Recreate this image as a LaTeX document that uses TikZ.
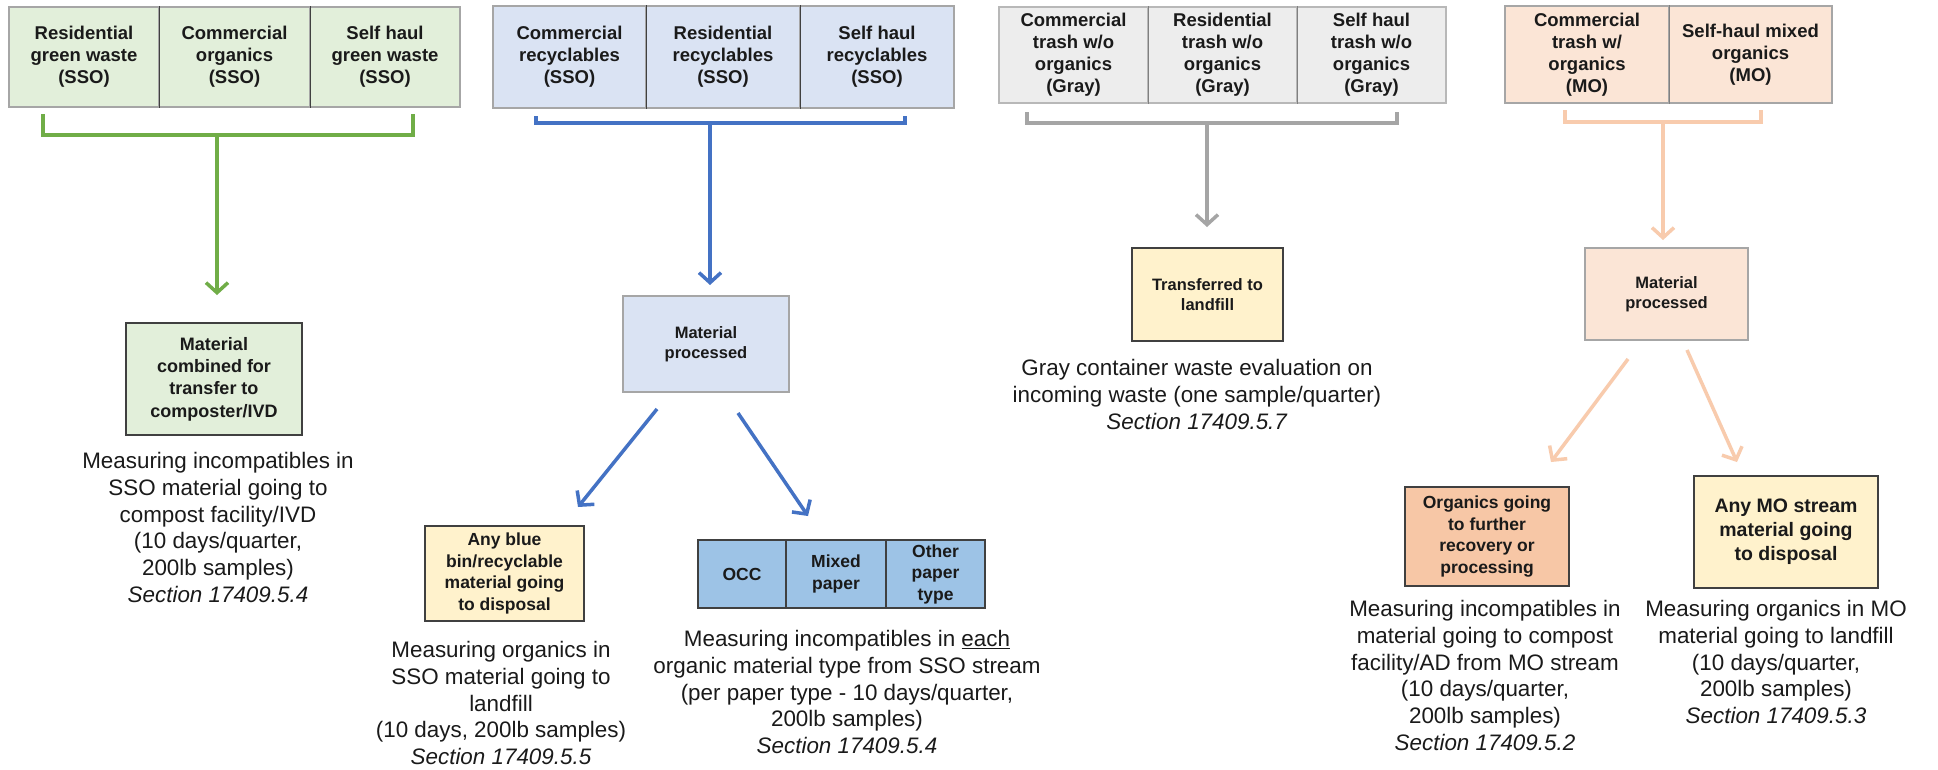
\documentclass[tikz,border=0pt]{standalone}
\usepackage{fontspec}
\setmainfont{Liberation Sans}
\usetikzlibrary{arrows.meta}
\definecolor{gfill}{HTML}{E2EFDA}
\definecolor{garrow}{HTML}{70AD47}
\definecolor{bfill}{HTML}{DAE3F3}
\definecolor{barrow}{HTML}{4472C4}
\definecolor{papfill}{HTML}{9DC3E6}
\definecolor{yfill}{HTML}{EDEDED}
\definecolor{yarrow}{HTML}{A5A5A5}
\definecolor{tfill}{HTML}{FFF2CC}
\definecolor{mfill}{HTML}{FBE5D6}
\definecolor{marrow}{HTML}{F8CBAD}
\definecolor{ofill}{HTML}{F7C7A6}
\definecolor{lborder}{HTML}{A6A6A6}
\definecolor{dborder}{HTML}{404040}
\definecolor{txt}{HTML}{1A1A1A}
\tikzset{
  hcell/.style={draw=lborder, line width=1.2pt, inner sep=0pt, align=center, text=txt,
    font=\fontsize{18.5}{22}\selectfont\bfseries},
  dbox/.style={draw=dborder, line width=1.5pt, inner sep=0pt, align=center, text=txt,
    font=\fontsize{17.5}{21.5}\selectfont\bfseries},
  lbox/.style={draw=lborder, line width=1.5pt, inner sep=0pt, align=center, text=txt,
    font=\fontsize{16.5}{20.5}\selectfont\bfseries},
  divider/.style={draw=dborder, line width=1.2pt},
  note/.style={anchor=north, inner sep=0pt, align=center, text=txt,
    font=\fontsize{22.4}{26.8}\selectfont},
  conn/.style={line width=3.5pt},
  tipped/.style={line width=3.5pt, -{Straight Barb[length=10pt,width=22pt]}},
}
\begin{document}
\begin{tikzpicture}[x=1pt,y=-1pt]
\fill[white] (0,0) rectangle (1938,769);
\useasboundingbox (0,0) rectangle (1938,769);

% ---------- green group ----------
\node[hcell, fill=gfill, minimum width=150pt, minimum height=100pt] (g1) at (84,57) {Residential\\green waste\\(SSO)};
\node[hcell, fill=gfill, minimum width=151pt, minimum height=100pt] (g2) at (234.5,57) {Commercial\\organics\\(SSO)};
\node[hcell, fill=gfill, minimum width=150pt, minimum height=100pt] (g3) at (385,57) {Self haul\\green waste\\(SSO)};
\draw[divider] (g1.north east) -- (g1.south east);
\draw[divider] (g2.north east) -- (g2.south east);

\coordinate (gL) at (43,114);
\coordinate (gR) at (413,114);
\coordinate (gM) at (217,135);
\coordinate (gT) at (217,295);
\draw[garrow, conn] (gL) |- (gM) -| (gR);
\draw[garrow, tipped] (gM) -- (gT);

\node[dbox, fill=gfill, font=\fontsize{18}{22.3}\selectfont\bfseries, minimum width=176pt, minimum height=112pt] (gm) at (214,379) {Material\\combined for\\transfer to\\composter/IVD};

\node[note] (gt) at (218,452) {Measuring incompatibles in\\SSO material going to\\compost facility/IVD\\(10 days/quarter,\\200lb samples)\\\textit{Section 17409.5.4}};

% ---------- blue group ----------
\node[hcell, fill=bfill, minimum width=153pt, minimum height=102pt] (b1) at (569.5,57) {Commercial\\recyclables\\(SSO)};
\node[hcell, fill=bfill, minimum width=154pt, minimum height=102pt] (b2) at (723,57) {Residential\\recyclables\\(SSO)};
\node[hcell, fill=bfill, minimum width=154pt, minimum height=102pt] (b3) at (877,57) {Self haul\\recyclables\\(SSO)};
\draw[divider] (b1.north east) -- (b1.south east);
\draw[divider] (b2.north east) -- (b2.south east);

\coordinate (bL) at (536,116);
\coordinate (bR) at (905,116);
\coordinate (bM) at (710,123);
\coordinate (bT) at (710,285);
\draw[barrow, conn] (bL) |- (bM) -| (bR);
\draw[barrow, tipped] (bM) -- (bT);

\node[lbox, fill=bfill, minimum width=166pt, minimum height=96pt] (bm) at (706,344) {Material\\processed};

\coordinate (bA1) at (657,409);
\coordinate (bA2) at (578,507);
\coordinate (bB1) at (738,413);
\coordinate (bB2) at (808,516);
\draw[barrow, tipped] (bA1) -- (bA2);
\draw[barrow, tipped] (bB1) -- (bB2);

\node[dbox, fill=tfill, minimum width=159pt, minimum height=95pt] (bl) at (504.5,573.5) {Any blue\\bin/recyclable\\material going\\to disposal};

\node[dbox, fill=papfill, minimum width=88pt, minimum height=68pt] (occ) at (742,574) {OCC};
\node[dbox, fill=papfill, minimum width=100pt, minimum height=68pt] (mix) at (836,574) {Mixed\\paper};
\node[dbox, fill=papfill, minimum width=99pt, minimum height=68pt] (oth) at (935.5,574) {Other\\paper\\type};

\node[note] (blt) at (501,641) {Measuring organics in\\SSO material going to\\landfill\\(10 days, 200lb samples)\\\textit{Section 17409.5.5}};
\node[note] (brt) at (847,630) {Measuring incompatibles in \underline{each}\\organic material type from SSO stream\\(per paper type - 10 days/quarter,\\200lb samples)\\\textit{Section 17409.5.4}};

% ---------- gray group ----------
\node[hcell, fill=yfill, draw=lborder!80, minimum width=149pt, minimum height=96pt] (y1) at (1073.5,55) {Commercial\\trash w/o\\organics\\(Gray)};
\node[hcell, fill=yfill, draw=lborder!80, minimum width=149pt, minimum height=96pt] (y2) at (1222.5,55) {Residential\\trash w/o\\organics\\(Gray)};
\node[hcell, fill=yfill, draw=lborder!80, minimum width=149pt, minimum height=96pt] (y3) at (1371.5,55) {Self haul\\trash w/o\\organics\\(Gray)};
\draw[divider, draw=gray] (y1.north east) -- (y1.south east);
\draw[divider, draw=gray] (y2.north east) -- (y2.south east);

\coordinate (yL) at (1027,112);
\coordinate (yR) at (1397,112);
\coordinate (yM) at (1207,123);
\coordinate (yT) at (1207,227);
\draw[yarrow, conn] (yL) |- (yM) -| (yR);
\draw[yarrow, tipped] (yM) -- (yT);

\node[dbox, fill=tfill, font=\fontsize{16.5}{20.5}\selectfont\bfseries, minimum width=151pt, minimum height=93pt] (ym) at (1207.5,294.5) {Transferred to\\landfill};

\node[note] (yt) at (1197,359) {Gray container waste evaluation on\\incoming waste (one sample/quarter)\\\textit{Section 17409.5.7}};

% ---------- peach group ----------
\node[hcell, fill=mfill, minimum width=164pt, minimum height=97pt] (p1) at (1587,54.5) {Commercial\\trash w/\\organics\\(MO)};
\node[hcell, fill=mfill, minimum width=163pt, minimum height=97pt] (p2) at (1750.5,54.5) {Self-haul mixed\\organics\\(MO)};
\draw[divider, draw=gray] (p1.north east) -- (p1.south east);

\coordinate (pL) at (1565,110);
\coordinate (pR) at (1761,110);
\coordinate (pM) at (1663,122);
\coordinate (pT) at (1663,240);
\draw[marrow, conn] (pL) |- (pM) -| (pR);
\draw[marrow, tipped] (pM) -- (pT);

\node[lbox, fill=mfill, minimum width=163pt, minimum height=92pt] (pm) at (1666.5,294) {Material\\processed};

\coordinate (pA1) at (1628,359);
\coordinate (pA2) at (1551,462);
\coordinate (pB1) at (1687,350);
\coordinate (pB2) at (1737,462);
\draw[marrow, tipped] (pA1) -- (pA2);
\draw[marrow, tipped] (pB1) -- (pB2);

\node[dbox, fill=ofill, minimum width=164pt, minimum height=99pt] (po) at (1487,536.5) {Organics going\\to further\\recovery or\\processing};
\node[dbox, fill=tfill, font=\fontsize{19.5}{24}\selectfont\bfseries, minimum width=184pt, minimum height=112pt] (pd) at (1786,532) {Any MO stream\\material going\\to disposal};

\node[note] (plt) at (1485,600) {Measuring incompatibles in\\material going to compost\\facility/AD from MO stream\\(10 days/quarter,\\200lb samples)\\\textit{Section 17409.5.2}};
\node[note] (prt) at (1776,600) {Measuring organics in MO\\material going to landfill\\(10 days/quarter,\\200lb samples)\\\textit{Section 17409.5.3}};
\end{tikzpicture}
\end{document}
